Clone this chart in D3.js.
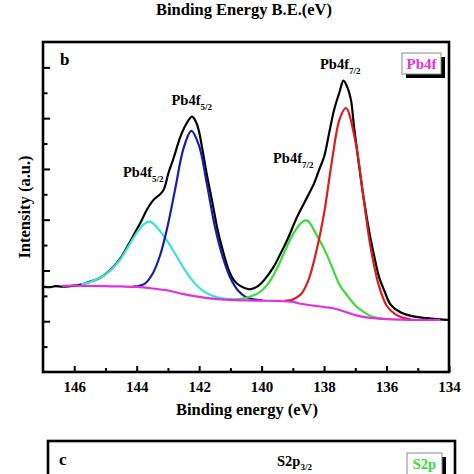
<!DOCTYPE html>
<html>
<head>
<meta charset="utf-8">
<script src="https://cdn.jsdelivr.net/npm/d3@7"></script>
<style>
  html, body { margin: 0; padding: 0; background: #fff; }
  svg { display: block; }
  text { font-family: "Liberation Serif", "Times New Roman", serif; font-weight: bold; }
</style>
</head>
<body>
<svg id="chart" width="474" height="474"></svg>
<script>
// ---------------- DATA ----------------
const xMajorTicks = [146, 144, 142, 140, 138, 136, 134];
const xMinorTicks = [145, 143, 141, 139, 137, 135];
const yMajorTicks = [2, 4, 6, 8, 10, 12];
const yMinorTicks = [1, 3, 5, 7, 9, 11];

// Measured envelope (black)
const envelopeBE = [147.0, 146.8, 146.6, 146.4, 146.2, 146.0, 145.8, 145.5, 145.25, 145.0, 144.75, 144.5, 144.25, 144.05, 143.85, 143.67, 143.46, 143.3, 143.14, 142.98, 142.82, 142.6, 142.4, 142.23, 142.1, 142.01, 141.9, 141.75, 141.58, 141.4, 141.2, 141.05, 140.89, 140.7, 140.41, 140.25, 140.14, 139.9, 139.61, 139.4, 139.18, 138.86, 138.53, 138.32, 138.16, 138.0, 137.84, 137.68, 137.5, 137.38, 137.25, 137.14, 137.04, 136.93, 136.82, 136.7, 136.55, 136.4, 136.24, 136.07, 135.86, 135.54, 135.11, 134.68, 134.3, 134.04];
const envelopeI  = [3.36, 3.34, 3.38, 3.36, 3.37, 3.40, 3.44, 3.56, 3.66, 3.86, 4.14, 4.52, 5.05, 5.50, 5.95, 6.40, 6.78, 6.95, 7.17, 7.85, 8.42, 9.27, 9.80, 10.06, 9.85, 9.50, 8.80, 7.75, 6.70, 5.55, 4.60, 4.00, 3.62, 3.40, 3.26, 3.30, 3.36, 3.65, 4.15, 4.65, 5.20, 6.12, 6.91, 7.43, 7.96, 8.48, 9.40, 10.32, 11.05, 11.48, 11.20, 10.72, 9.66, 8.60, 7.60, 6.60, 5.50, 4.60, 3.75, 3.20, 2.64, 2.34, 2.18, 2.12, 2.07, 2.05];

// Pb4f5/2 shoulder component (cyan)
const cyanBE = [145.75, 145.5, 145.25, 145.0, 144.75, 144.5, 144.25, 144.0, 143.75, 143.6, 143.5, 143.25, 143.0, 142.75, 142.5, 142.25, 142.0, 141.75, 141.5, 141.25, 141.0];
const cyanI  = [3.46, 3.54, 3.67, 3.85, 4.12, 4.48, 4.98, 5.48, 5.84, 5.92, 5.88, 5.55, 5.12, 4.62, 4.10, 3.66, 3.32, 3.10, 2.97, 2.90, 2.87];

// Pb4f5/2 main component (blue)
const blueBE = [144.1, 143.75, 143.5, 143.25, 143.0, 142.75, 142.5, 142.25, 142.0, 141.75, 141.5, 141.25, 141.0, 140.75, 140.5, 140.25, 140.0];
const blueI  = [3.36, 3.47, 3.85, 4.60, 5.80, 7.32, 8.81, 9.50, 8.90, 7.39, 5.75, 4.55, 3.70, 3.20, 2.95, 2.86, 2.83];

// Pb4f7/2 shoulder component (green)
const greenBE = [141.0, 140.75, 140.5, 140.25, 140.0, 139.75, 139.5, 139.25, 139.0, 138.75, 138.6, 138.5, 138.25, 138.0, 137.75, 137.5, 137.25, 137.0, 136.75, 136.5, 136.25, 136.05];
const greenI  = [2.86, 2.87, 2.92, 3.02, 3.20, 3.55, 4.10, 4.78, 5.42, 5.85, 5.97, 5.93, 5.42, 4.85, 4.15, 3.42, 3.00, 2.62, 2.38, 2.20, 2.12, 2.08];

// Pb4f7/2 main component (red)
const redBE = [139.25, 139.0, 138.75, 138.5, 138.25, 138.0, 137.75, 137.5, 137.3, 137.0, 136.75, 136.5, 136.25, 136.0, 135.75, 135.5, 135.25];
const redI  = [2.80, 2.86, 3.05, 3.62, 4.75, 6.25, 8.30, 9.97, 10.40, 9.11, 6.97, 4.84, 3.42, 2.62, 2.30, 2.15, 2.08];

// Background (magenta)
const baseBE = [146.36, 146.0, 145.5, 145.0, 144.5, 144.0, 143.5, 143.0, 142.5, 142.0, 141.5, 141.0, 140.5, 140.0, 139.5, 139.0, 138.75, 138.5, 138.25, 138.0, 137.75, 137.5, 137.25, 137.0, 136.75, 136.5, 136.0, 135.5, 135.0, 134.32];
const baseI  = [3.39, 3.40, 3.39, 3.38, 3.37, 3.35, 3.29, 3.21, 3.07, 2.96, 2.88, 2.84, 2.82, 2.81, 2.80, 2.76, 2.69, 2.64, 2.60, 2.56, 2.52, 2.44, 2.34, 2.24, 2.17, 2.13, 2.08, 2.06, 2.05, 2.05];

// ---------------- CHART ----------------
const svg = d3.select("#chart");
svg.append("rect").attr("width", 474).attr("height", 474).attr("fill", "#fff");

const plot = { left: 43, right: 449, top: 42, bottom: 372 };
const x = d3.scaleLinear().domain([147, 134]).range([plot.left, plot.right]);
const y = d3.scaleLinear().domain([0, 13]).range([plot.bottom, plot.top]);

// Top title (belongs to the previous panel, sits at the very top edge)
svg.append("text").attr("x", 244).attr("y", 15).attr("text-anchor", "middle")
  .attr("font-size", 16.5).text("Binding Energy B.E.(eV)");

// Axes
const gx = svg.append("g").attr("transform", `translate(0,${plot.bottom})`);
gx.call(d3.axisBottom(x).tickValues(xMajorTicks).tickSizeInner(-6).tickSizeOuter(0).tickPadding(9.5).tickFormat(d3.format("d")));
const gxm = svg.append("g").attr("transform", `translate(0,${plot.bottom})`);
gxm.call(d3.axisBottom(x).tickValues(xMinorTicks).tickSizeInner(-4).tickSizeOuter(0).tickFormat(""));
const gy = svg.append("g").attr("transform", `translate(${plot.left},0)`);
gy.call(d3.axisLeft(y).tickValues(yMajorTicks).tickSizeInner(-7).tickSizeOuter(0).tickFormat(""));
const gym = svg.append("g").attr("transform", `translate(${plot.left},0)`);
gym.call(d3.axisLeft(y).tickValues(yMinorTicks).tickSizeInner(-4.5).tickSizeOuter(0).tickFormat(""));
[gx, gxm, gy, gym].forEach(g => {
  g.select(".domain").remove();
  g.selectAll(".tick line").attr("stroke", "#000").attr("stroke-width", 2);
});
gx.selectAll(".tick text").attr("font-size", 15).attr("fill", "#000")
  .attr("font-family", '"Liberation Serif", "Times New Roman", serif').attr("font-weight", "bold");

// Curves
const line = d3.line().x(d => x(d[0])).y(d => y(d[1])).curve(d3.curveCatmullRom.alpha(0.5));
const zip = (a, b) => a.map((v, i) => [v, b[i]]);
const series = [
  { be: envelopeBE, v: envelopeI, color: "#000000" },
  { be: cyanBE, v: cyanI, color: "#38e0e0" },
  { be: blueBE, v: blueI, color: "#1c1ca8" },
  { be: greenBE, v: greenI, color: "#3adc3a" },
  { be: redBE, v: redI, color: "#dc1c1c" },
  { be: baseBE, v: baseI, color: "#e030e0" }
];
const gc = svg.append("g");
series.forEach(s => {
  gc.append("path").datum(zip(s.be, s.v)).attr("d", line)
    .attr("fill", "none").attr("stroke", s.color).attr("stroke-width", 2.2)
    .attr("stroke-linejoin", "round").attr("stroke-linecap", "round");
});

// Frame
svg.append("rect").attr("x", plot.left).attr("y", plot.top)
  .attr("width", plot.right - plot.left).attr("height", plot.bottom - plot.top)
  .attr("fill", "none").attr("stroke", "#000").attr("stroke-width", 2.6);

// Axis titles
svg.append("text").attr("x", 247).attr("y", 415).attr("text-anchor", "middle")
  .attr("font-size", 16.5).text("Binding energy (eV)");
svg.append("text").attr("transform", "translate(30,207) rotate(-90)").attr("text-anchor", "middle")
  .attr("font-size", 16.5).text("Intensity (a.u.)");

// Panel letter
svg.append("text").attr("x", 60).attr("y", 65).attr("font-size", 17).text("b");

// Peak labels
const peakLabels = [
  { main: "Pb4f", sub: "5/2", px: 171.5, py: 105 },
  { main: "Pb4f", sub: "5/2", px: 123, py: 177 },
  { main: "Pb4f", sub: "7/2", px: 320, py: 69 },
  { main: "Pb4f", sub: "7/2", px: 273, py: 163 }
];
peakLabels.forEach(l => {
  const t = svg.append("text").attr("x", l.px).attr("y", l.py).attr("font-size", 14.5);
  t.append("tspan").text(l.main);
  t.append("tspan").attr("font-size", 9).attr("dy", 5).text(l.sub);
});

// Legend boxes
function legendBox(x0, y0, w, h, label, color, fs, baseline) {
  svg.append("rect").attr("x", x0 + 4).attr("y", y0 + 4).attr("width", w).attr("height", h).attr("fill", "#000");
  svg.append("rect").attr("x", x0).attr("y", y0).attr("width", w).attr("height", h)
    .attr("fill", "#fff").attr("stroke", "#888").attr("stroke-width", 1);
  svg.append("text").attr("x", x0 + w / 2).attr("y", baseline).attr("text-anchor", "middle")
    .attr("font-size", fs).attr("fill", color).text(label);
}
legendBox(402, 53, 39, 21, "Pb4f", "#e030e0", 15, 69);

// Next panel (c), cropped at the bottom
svg.append("rect").attr("x", 48).attr("y", 441).attr("width", 407).attr("height", 80)
  .attr("fill", "none").attr("stroke", "#000").attr("stroke-width", 2.6);
svg.append("text").attr("x", 59).attr("y", 465).attr("font-size", 17).text("c");
const s2 = svg.append("text").attr("x", 277).attr("y", 466).attr("font-size", 14.5);
s2.append("tspan").text("S2p");
s2.append("tspan").attr("font-size", 9).attr("dy", 4).text("3/2");
legendBox(407, 453, 35, 26, "S2p", "#33dd33", 14.5, 469);
</script>
</body>
</html>
